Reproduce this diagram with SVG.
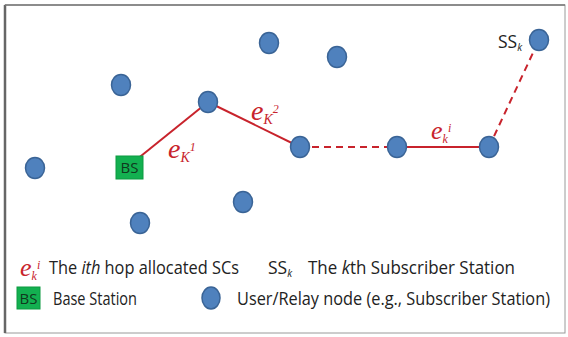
<svg xmlns="http://www.w3.org/2000/svg" width="568" height="337" viewBox="0 0 568 337">
<style>
.n{fill:#4F81BD;stroke:#3A6496;stroke-width:1.5}
.l{stroke:#C8232C;stroke-width:2;fill:none}
.d{stroke-dasharray:7,5}
.bs{fill:#13B050;stroke:#0C9A40;stroke-width:1}
.bst{font-family:"Open Sans","Liberation Sans",sans-serif;font-size:15px;fill:#10381E}
.e{font-family:"Liberation Serif",serif;font-style:italic;fill:#C8232C}
.t{font-family:"Open Sans","Liberation Sans",sans-serif;font-size:17.5px;fill:#222}
</style>
<rect x="0" y="0" width="568" height="337" fill="#fff"/>
<rect x="5" y="5" width="560" height="328" fill="none" stroke="#9a9a9a" stroke-width="1"/>
<line x1="5" y1="5" x2="5" y2="333" stroke="#666" stroke-width="2.5"/>
<line x1="5" y1="5" x2="565" y2="5" stroke="#777" stroke-width="1.5"/>
<g id="connectors">
<line class="l" x1="136" y1="160" x2="208" y2="102"/>
<line class="l" x1="208" y1="102" x2="300" y2="147"/>
<line class="l d" x1="300" y1="147" x2="397" y2="147"/>
<line class="l" x1="397" y1="147" x2="489" y2="147"/>
<line class="l d" x1="489" y1="147" x2="539" y2="40"/>
</g>
<g id="n1"><ellipse class="n" cx="269" cy="43" rx="9.5" ry="10.5"/></g>
<g id="n2"><ellipse class="n" cx="337" cy="57" rx="9.5" ry="10.5"/></g>
<g id="n3"><ellipse class="n" cx="121" cy="85" rx="9.5" ry="10.5"/></g>
<g id="n4"><ellipse class="n" cx="208" cy="102" rx="9.5" ry="10.5"/></g>
<g id="n5"><ellipse class="n" cx="35" cy="168" rx="9.5" ry="10.5"/></g>
<g id="n6"><ellipse class="n" cx="300" cy="147" rx="9.5" ry="10.5"/></g>
<g id="n7"><ellipse class="n" cx="397" cy="147" rx="9.5" ry="10.5"/></g>
<g id="n8"><ellipse class="n" cx="489" cy="147" rx="9.5" ry="10.5"/></g>
<g id="n9"><ellipse class="n" cx="539" cy="40" rx="9.5" ry="10.5"/></g>
<g id="n10"><ellipse class="n" cx="140" cy="223" rx="9.5" ry="10.5"/></g>
<g id="n11"><ellipse class="n" cx="243" cy="202" rx="9.5" ry="10.5"/></g>
<g id="bs"><rect class="bs" x="116" y="156" width="27" height="23"/><text class="bst" x="129.5" y="173" text-anchor="middle">BS</text></g>
<g id="labels">
<text class="e" x="168" y="158" font-size="28">e<tspan font-size="14" dy="4">K</tspan><tspan font-size="12" dy="-11">1</tspan></text>
<text class="e" x="251" y="120" font-size="28">e<tspan font-size="14" dy="4">K</tspan><tspan font-size="12" dy="-11">2</tspan></text>
<text class="e" x="431" y="139" font-size="26">e<tspan font-size="12" dy="4">k</tspan><tspan font-size="12" dy="-11">i</tspan></text>
<text class="t" x="498" y="48" font-size="15">SS<tspan font-size="10" dy="3" font-style="italic">k</tspan></text>
</g>
<g id="legend">
<text class="e" x="20" y="276" font-size="26">e<tspan font-size="12" dy="4">k</tspan><tspan font-size="12" dy="-11">i</tspan></text>
<text class="t" x="49" y="274" textLength="190" lengthAdjust="spacingAndGlyphs">The <tspan font-style="italic">ith</tspan> hop allocated SCs</text>
<text class="t" x="268" y="274" font-size="15">SS<tspan font-size="10" dy="3" font-style="italic">k</tspan></text>
<text class="t" x="308" y="274" textLength="207" lengthAdjust="spacingAndGlyphs">The <tspan font-style="italic">k</tspan>th Subscriber Station</text>
<rect class="bs" x="17" y="287" width="23" height="22"/><text class="bst" x="28.5" y="304" text-anchor="middle" font-size="14">BS</text>
<text class="t" x="53" y="305" textLength="84" lengthAdjust="spacingAndGlyphs">Base Station</text>
<ellipse class="n" cx="211" cy="298" rx="9" ry="11"/>
<text class="t" x="237" y="305" textLength="313" lengthAdjust="spacingAndGlyphs">User/Relay node (e.g., Subscriber Station)</text>
</g>
</svg>
